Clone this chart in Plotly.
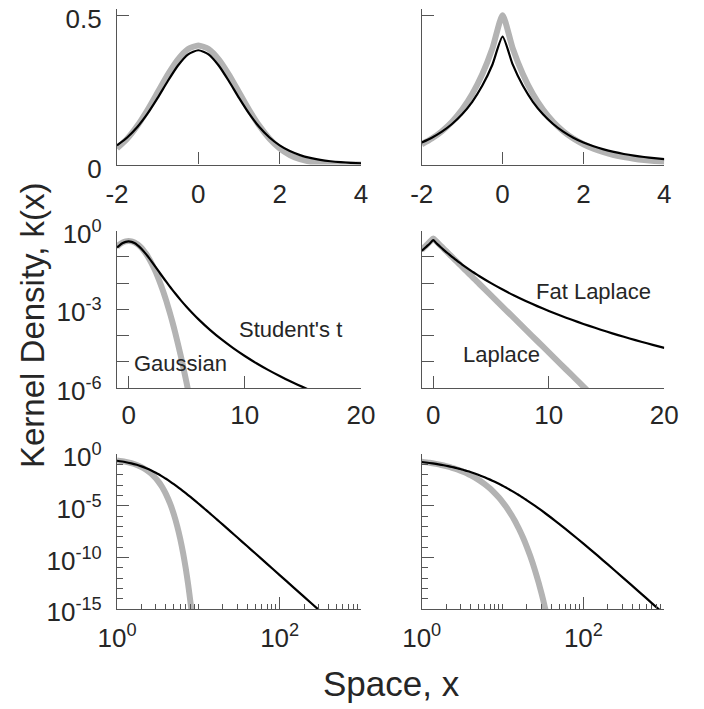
import plotly.graph_objects as go

# ---------------- data ----------------
# Gaussian kernel (grey)
gauss_x = [-2, -1.75, -1.5, -1.25, -1, -0.75, -0.5, -0.25, 0, 0.25, 0.5, 0.75, 1, 1.25, 1.5, 1.75,
           2, 2.25, 2.5, 2.75, 3, 3.25, 3.5, 3.75, 4, 4.5, 5, 5.5, 6, 6.5, 7, 7.5, 8, 8.5, 9]
gauss_y = [0.05399, 0.08628, 0.12952, 0.18265, 0.24197, 0.30114, 0.35207, 0.38667, 0.39894,
           0.38667, 0.35207, 0.30114, 0.24197, 0.18265, 0.12952, 0.08628, 0.05399, 0.03174,
           0.01753, 0.009094, 0.004432, 0.002029, 8.727e-4, 3.526e-4, 1.3383e-4, 1.5984e-5,
           1.4867e-6, 1.0771e-7, 6.076e-9, 2.670e-10, 9.134e-12, 2.434e-13, 5.052e-15,
           8.166e-17, 1.028e-18]

# Student's t kernel (black)
t_x = [-2, -1.75, -1.5, -1.25, -1, -0.75, -0.5, -0.25, 0, 0.25, 0.5, 0.75, 1, 1.25, 1.5, 1.75,
       2, 2.25, 2.5, 2.75, 3, 3.25, 3.5, 3.75, 4, 4.5, 5, 5.5, 6, 7, 8, 9, 10, 11, 12, 13, 14,
       15, 16, 17, 20, 25, 30, 40, 50, 70, 100, 150, 200, 300, 400]
t_y = [0.064031, 0.090381, 0.125554, 0.170261, 0.223150, 0.279707, 0.331777, 0.369100, 0.382733,
       0.369100, 0.331777, 0.279707, 0.223150, 0.170261, 0.125554, 0.090381, 0.064031, 0.044974,
       0.031474, 0.022040, 0.015493, 0.010950, 0.007798, 0.005598, 0.004054, 0.002185,
       0.0012203, 7.058e-4, 4.217e-4, 1.6405e-4, 7.055e-5, 3.2962e-5, 1.6514e-5, 8.765e-6,
       4.895e-6, 2.854e-6, 1.727e-6, 1.0809e-6, 6.952e-7, 4.589e-7, 1.5016e-7, 3.2086e-8,
       9.0465e-9, 1.2199e-9, 2.5704e-10, 2.4484e-11, 2.0207e-12, 1.1841e-13, 1.5812e-14,
       9.257e-16, 1.2358e-16]

# Laplace kernel (grey)
lap_x = [-2, -1.75, -1.5, -1.25, -1, -0.75, -0.5, -0.25, 0, 0.25, 0.5, 0.75, 1, 1.25, 1.5, 1.75,
         2, 2.25, 2.5, 2.75, 3, 3.25, 3.5, 3.75, 4, 5, 6, 7, 8, 9, 10, 11, 12, 13, 14, 15, 16,
         18, 20, 22, 25, 28, 30, 32, 35, 38]
lap_y = [0.067668, 0.086887, 0.111565, 0.143252, 0.183940, 0.236183, 0.303265, 0.389400, 0.5,
         0.389400, 0.303265, 0.236183, 0.183940, 0.143252, 0.111565, 0.086887, 0.067668,
         0.052700, 0.041042, 0.031964, 0.024894, 0.019387, 0.015099, 0.011759, 0.009158,
         0.0033690, 0.0012394, 4.5594e-4, 1.6773e-4, 6.1705e-5, 2.2700e-5, 8.3508e-6,
         3.0721e-6, 1.1302e-6, 4.1576e-7, 1.5295e-7, 5.6268e-8, 7.6150e-9, 1.0306e-9,
         1.3947e-10, 6.9440e-12, 3.4572e-13, 4.6788e-14, 6.3321e-15, 3.1526e-16, 1.5696e-17]

# Fat Laplace kernel (black)
fat_x = [-2, -1.75, -1.5, -1.25, -1, -0.75, -0.5, -0.25, 0, 0.25, 0.5, 0.75, 1, 1.25, 1.5, 1.75,
         2, 2.25, 2.5, 2.75, 3, 3.25, 3.5, 3.75, 4, 5, 6, 7, 8, 9, 10, 11, 12, 13, 14, 15, 16,
         17, 18, 19, 20, 25, 30, 40, 50, 70, 100, 150, 200, 300, 500, 700, 900, 1000]
fat_y = [0.073787, 0.089878, 0.110094, 0.135679, 0.168296, 0.210183, 0.264408, 0.335229,
         0.428571, 0.335229, 0.264408, 0.210183, 0.168296, 0.135679, 0.110094, 0.089878,
         0.073787, 0.060916, 0.050543, 0.042133, 0.035295, 0.029696, 0.025083, 0.021274,
         0.018114, 0.009849, 0.005623, 0.0033482, 0.0020661, 0.0013146, 8.5998e-4, 5.7647e-4,
         3.9501e-4, 2.7585e-4, 1.9597e-4, 1.4155e-4, 1.0369e-4, 7.6985e-5, 5.7845e-5,
         4.3955e-5, 3.3741e-5, 1.0269e-5, 3.7179e-6, 6.9667e-7, 1.8050e-7, 2.1993e-8,
         2.1980e-9, 1.5011e-10, 2.1673e-11, 1.3732e-12, 4.0987e-14, 3.9974e-15, 6.9897e-16,
         3.3614e-16]

# tick labels
lin_xticks = [-2, 0, 2, 4]
lin_xticklabels = ['-2', '0', '2', '4']
lin_yticks = [0, 0.5]
lin_yticklabels = ['0', '0.5']
semi_xticks = [0, 10, 20]
semi_xticklabels = ['0', '10', '20']
semi_ytick_exps = [0, -1, -2, -3, -4, -5, -6]
semi_ylabel_exps = [0, -3, -6]
loglog_xtick_exps = [0, 2]
loglog_ytick_exps = [0, -5, -10, -15]

annotation_texts = ["Student's t", "Gaussian", "Fat Laplace", "Laplace"]
xlabel = "Space, x"
ylabel = "Kernel Density, k(x)"

# ---------------- styling ----------------
W, H = 704, 709
GRAY = '#b3b3b3'
BLACK = '#000000'
AX = '#555555'
TXT = '#262626'
FONT = 'Liberation Sans, Arial, Helvetica, sans-serif'


def fx(p):
    return p / W


def fy(p):
    return 1 - p / H


col_dom = [[fx(117), fx(361)], [fx(421.7), fx(664.3)]]
row_dom = [[fy(164.5), fy(9.3)], [fy(388), fy(230.5)], [fy(609.3), fy(454)]]
row_xlim = [(-2, 4), (-1, 20), (1, 1000)]
row_xstandoff = [6, 4, 5]
row_yshift = [4, 3, 3]

fig = go.Figure()

series = [(gauss_x, gauss_y, t_x, t_y), (lap_x, lap_y, fat_x, fat_y)]


def sel(xs, ys, lo, hi):
    px = [x for x in xs if lo <= x <= hi]
    py = [y for x, y in zip(xs, ys) if lo <= x <= hi]
    return px, py


def sup(e):
    return '10<sup>%d</sup>' % e


axis_common = dict(showline=True, linecolor=AX, linewidth=1.2, ticks='inside', ticklen=12,
                   tickwidth=1.2, tickcolor=AX, showgrid=False, zeroline=False, mirror=False,
                   automargin=False, ticklabeloverflow='allow',
                   tickfont=dict(family=FONT, size=26, color=TXT))

for row in range(3):
    for col in range(2):
        k = row * 2 + col + 1
        xa = 'x' if k == 1 else 'x%d' % k
        ya = 'y' if k == 1 else 'y%d' % k
        gx, gy, bx, by = series[col]
        lo, hi = row_xlim[row]
        x1, y1 = sel(gx, gy, lo, hi)
        x2, y2 = sel(bx, by, lo, hi)
        fig.add_trace(go.Scatter(x=x1, y=y1, mode='lines',
                                 line=dict(color=GRAY, width=6, shape='spline', smoothing=0.6),
                                 xaxis=xa, yaxis=ya, showlegend=False, hoverinfo='skip'))
        fig.add_trace(go.Scatter(x=x2, y=y2, mode='lines',
                                 line=dict(color=BLACK, width=2.2, shape='spline', smoothing=0.6),
                                 xaxis=xa, yaxis=ya, showlegend=False, hoverinfo='skip'))

        xd = dict(axis_common, domain=col_dom[col], anchor=ya,
                  ticklabelstandoff=row_xstandoff[row])
        yd = dict(axis_common, domain=row_dom[row], anchor=xa, ticklabelstandoff=9,
                  ticklabelshift=row_yshift[row], showticklabels=(col == 0))
        if row == 0:
            xd.update(range=[-2, 4], tickmode='array', tickvals=lin_xticks,
                      ticktext=lin_xticklabels)
            yd.update(range=[0, 0.52], tickmode='array', tickvals=lin_yticks,
                      ticktext=lin_yticklabels)
        elif row == 1:
            xd.update(range=[-1, 20], tickmode='array', tickvals=semi_xticks,
                      ticktext=semi_xticklabels)
            yd.update(type='log', range=[-6, 0], tickmode='array',
                      tickvals=[10.0 ** e for e in semi_ytick_exps],
                      ticktext=[sup(e) if e in semi_ylabel_exps else '' for e in semi_ytick_exps])
        else:
            xd.update(type='log', range=[0, 3], tickmode='array',
                      tickvals=[10.0 ** e for e in loglog_xtick_exps],
                      ticktext=[sup(e) for e in loglog_xtick_exps],
                      minor=dict(tickmode='array', ticks='inside', ticklen=5, tickwidth=1.2,
                                 tickcolor=AX,
                                 tickvals=[m * 10.0 ** e for e in range(3) for m in range(2, 10)]
                                 + [10]))
            yd.update(type='log', range=[-15, 0], tickmode='array',
                      tickvals=[10.0 ** e for e in loglog_ytick_exps],
                      ticktext=[sup(e) for e in loglog_ytick_exps],
                      minor=dict(tickmode='array', ticks='inside', ticklen=6, tickwidth=1.2,
                                 tickcolor=AX,
                                 tickvals=[10.0 ** (-e) for e in range(16)
                                           if -e not in loglog_ytick_exps]))
        fig.layout['xaxis' if k == 1 else 'xaxis%d' % k] = xd
        fig.layout['yaxis' if k == 1 else 'yaxis%d' % k] = yd

ann_font = dict(family=FONT, size=22, color=TXT)
annotations = [
    dict(text=annotation_texts[0], x=13.9, y=-3.79, xref='x3', yref='y3'),
    dict(text=annotation_texts[1], x=4.43, y=-5.05, xref='x3', yref='y3'),
    dict(text=annotation_texts[2], x=13.9, y=-2.33, xref='x4', yref='y4'),
    dict(text=annotation_texts[3], x=5.9, y=-4.74, xref='x4', yref='y4'),
]
for a in annotations:
    a.update(showarrow=False, font=ann_font, xanchor='center', yanchor='middle')

annotations.append(dict(text=ylabel, x=fx(33), y=fy(326), xref='paper', yref='paper',
                        textangle=-90, showarrow=False, xanchor='center', yanchor='middle',
                        font=dict(family=FONT, size=33, color=TXT)))
annotations.append(dict(text=xlabel, x=fx(392), y=fy(683), xref='paper', yref='paper',
                        showarrow=False, xanchor='center', yanchor='middle',
                        font=dict(family=FONT, size=35, color=TXT)))

fig.update_layout(width=W, height=H, autosize=False, margin=dict(l=0, r=0, t=0, b=0),
                  paper_bgcolor='white', plot_bgcolor='white', showlegend=False,
                  annotations=annotations, font=dict(family=FONT, color=TXT))

fig.write_html("out.html", config={'displayModeBar': False},
               post_script="document.body.style.margin='0px';"
                           "document.body.style.overflow='hidden';")
